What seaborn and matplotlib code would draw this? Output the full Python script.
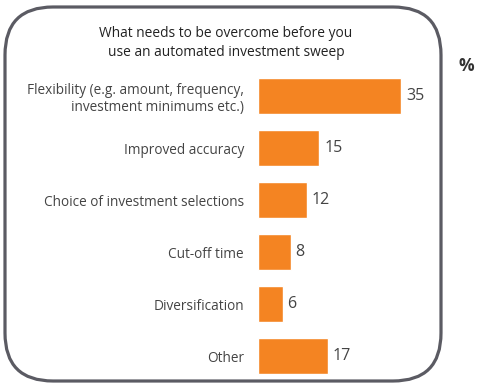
import matplotlib
matplotlib.use("Agg")
import matplotlib.pyplot as plt
from matplotlib.patches import FancyBboxPatch
import seaborn as sns
import pandas as pd

categories = [
    "Flexibility (e.g. amount, frequency,\ninvestment minimums etc.)",
    "Improved accuracy",
    "Choice of investment selections",
    "Cut-off time",
    "Diversification",
    "Other",
]
values = [35, 15, 12, 8, 6, 17]
title = "What needs to be overcome before you\nuse an automated investment sweep"

sns.set_theme(style="white")
plt.rcParams["font.family"] = ["Open Sans", "DejaVu Sans"]

W, H = 482, 383
fig = plt.figure(figsize=(W / 100, H / 100), dpi=100)

# Rounded frame around the panel
frame = FancyBboxPatch((5 / W, 2 / H), 436 / W, 374 / H,
                       boxstyle="round,pad=0,rounding_size=%f" % (48 / W),
                       transform=fig.transFigure, fill=False,
                       edgecolor="#5b5b63", linewidth=2.3, mutation_aspect=W / H)
fig.patches.append(frame)

ax = fig.add_axes([258 / W, 1 / H, 184 / W, 312 / H])
df = pd.DataFrame({"category": categories, "value": values})
sns.barplot(data=df, x="value", y="category", color="#F48422", saturation=1,
            width=0.71, ax=ax)
ax.set_xlim(0, 45)
ax.set_ylim(5.5, -0.5)
ax.set_xlabel("")
ax.set_ylabel("")
ax.set_xticks([])
ax.tick_params(axis="y", length=0, pad=10, labelsize=9.8, labelcolor="#444444")
for lbl in ax.get_yticklabels():
    lbl.set_horizontalalignment("right")
    lbl.set_multialignment("right")
sns.despine(ax=ax, left=True, bottom=True)
ax.patch.set_alpha(0)

for i, v in enumerate(values):
    ax.text(v + 1.2, i, str(v), va="center", ha="left", fontsize=11.5,
            color="#444444")

fig.text(226 / W, 1 - 43 / H, title, ha="center", va="center", fontsize=9.9,
         color="#222222", linespacing=1.35)
fig.text(466 / W, 1 - 66 / H, "%", ha="center", va="center", fontsize=12.5,
         fontweight="bold", color="#333333")

fig.savefig("out.png", dpi=100)
